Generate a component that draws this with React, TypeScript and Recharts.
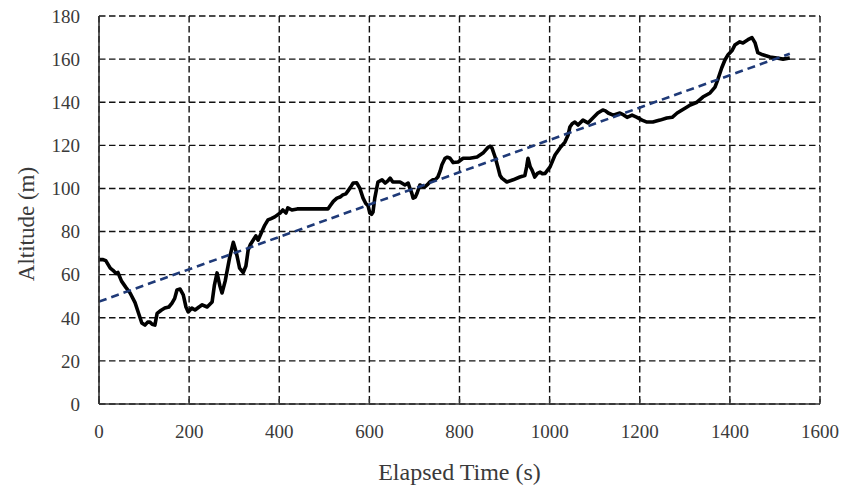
import React from "react";
import { LineChart, Line, XAxis, YAxis, CartesianGrid } from "recharts";

// Elapsed time (s) of each logged altitude sample
const elapsedTime: number[] = [
  0, 8, 15, 25, 31, 38, 42, 50, 60, 69, 80, 88, 95, 102, 108, 113, 118, 124, 129, 138,
  146, 155, 162, 168, 173, 180, 187, 193, 198, 206, 213, 222, 229, 240, 251, 256, 262, 268, 273, 280,
  290, 298, 305, 312, 320, 326, 331, 336, 342, 348, 353, 361, 368, 375, 382, 390, 402, 408, 415, 419,
  428, 440, 460, 480, 500, 508, 513, 520, 528, 535, 541, 548, 553, 558, 564, 572, 579, 586, 592, 597,
  601, 605, 608, 612, 619, 628, 635, 641, 646, 652, 657, 668, 679, 686, 690, 694, 697, 702, 706, 712,
  718, 723, 730, 734, 741, 746, 752, 757, 761, 768, 773, 779, 786, 797, 808, 823, 839, 852, 863, 868,
  872, 879, 885, 890, 894, 905, 919, 934, 945, 949, 952, 957, 961, 967, 973, 979, 984, 990, 1001, 1012,
  1023, 1034, 1041, 1045, 1050, 1056, 1063, 1074, 1085, 1096, 1107, 1118, 1124, 1130, 1141, 1156, 1165, 1172, 1183, 1194,
  1205, 1216, 1229, 1245, 1260, 1272, 1283, 1294, 1305, 1312, 1327, 1340, 1356, 1367, 1374, 1382, 1389, 1396, 1405, 1411,
  1422, 1429, 1440, 1449, 1456, 1462, 1473, 1489, 1504, 1518, 1533,
];

// Altitude (m) at each sample
const altitude: number[] = [
  67, 67, 66.5, 63, 62, 60.5, 61, 57, 54, 51.5, 47, 42, 37.6, 36.6, 38, 38, 37, 36.6, 42, 43.5,
  44.5, 45, 46.8, 49, 52.9, 53.3, 50.6, 45, 42.7, 44.5, 43.6, 45, 46, 45, 47.3, 55, 60.8, 55, 51.5, 57,
  68, 75, 70, 63, 61, 64, 71.4, 74, 76, 78, 76, 79.8, 83, 85.4, 86, 86.8, 88.6, 90, 88.6, 91,
  90, 90.5, 90.5, 90.5, 90.5, 90.5, 92, 94, 95.5, 96, 97, 97.5, 99, 100.5, 102.5, 102.6, 100, 95.5, 93, 92,
  88.6, 88, 89, 95.5, 103, 104, 102.5, 103.5, 104.8, 103, 103, 103, 101.6, 102.5, 100, 97.9, 95.5, 96, 97.9, 101.6,
  101, 100.7, 102, 103, 104, 104, 105.3, 108, 111, 114, 114.5, 114, 112, 112.3, 114, 114, 114.6, 116.4, 119, 119.5,
  118.8, 114.6, 110, 106, 104.8, 103, 104, 105.3, 106, 110, 114, 110, 108.5, 105.3, 107, 107.6, 106.8, 107, 110, 115.5,
  118.8, 121.5, 124.8, 128.5, 130, 130.8, 129.4, 131.7, 130.4, 132.7, 135, 136.4, 136, 135, 134, 135, 134, 133, 134, 133,
  131.7, 130.8, 130.8, 131.7, 132.7, 133, 135, 136.4, 137.8, 138.7, 140, 142.4, 144.3, 147, 151, 156, 159.6, 162, 164, 166.5,
  168, 167.5, 169, 170, 167.5, 163, 162, 161, 160.5, 160, 160.5,
];

// Linear trend endpoints (time, altitude)
const trendTime: number[] = [0, 1533];
const trendAltitude: number[] = [47.5, 162.5];

const xTicks: number[] = [0, 200, 400, 600, 800, 1000, 1200, 1400, 1600];
const yTicks: number[] = [0, 20, 40, 60, 80, 100, 120, 140, 160, 180];

const altitudeData = elapsedTime.map((t, i) => ({ t, alt: altitude[i] }));
const trendData = trendTime.map((t, i) => ({ t, trend: trendAltitude[i] }));

const FONT = "'Liberation Serif', 'DejaVu Serif', serif";
const TEXT = "#3a3a3a";

// Vertical axis title, rotated and placed beside the tick labels
const AltitudeTitle = () => (
  <text
    x={26}
    y={224}
    transform="rotate(-90, 26, 224)"
    textAnchor="middle"
    dominantBaseline="central"
    fill={TEXT}
    fontSize={23}
    fontFamily={FONT}
  >
    Altitude (m)
  </text>
);

export default function App() {
  return (
    <div style={{ position: "absolute", left: 0, top: 0, width: 846, height: 489, background: "#fff" }}>
      <LineChart
        width={846}
        height={489}
        margin={{ top: 16, right: 26, left: 0, bottom: 0 }}
        style={{ fontFamily: FONT }}
      >
        <CartesianGrid stroke="#111" strokeWidth={1.4} strokeDasharray="6.5 3.5" />
        <XAxis
          type="number"
          dataKey="t"
          domain={[0, 1600]}
          ticks={xTicks}
          allowDataOverflow
          height={85}
          axisLine={{ stroke: "#333", strokeWidth: 1.6 }}
          tickLine={{ stroke: "#333", strokeWidth: 1.4 }}
          tickSize={-5}
          tickMargin={26}
          tick={{ fill: TEXT, fontSize: 19, fontFamily: FONT }}
          label={{
            value: "Elapsed Time (s)",
            position: "insideBottom",
            offset: 9,
            style: { fill: TEXT, fontSize: 24, fontFamily: FONT },
          }}
        />
        <YAxis
          type="number"
          domain={[0, 180]}
          ticks={yTicks}
          width={99}
          axisLine={{ stroke: "#333", strokeWidth: 1.6 }}
          tickLine={false}
          tickSize={0}
          tickMargin={19}
          tick={{ fill: TEXT, fontSize: 19, fontFamily: FONT }}
          label={<AltitudeTitle />}
        />
        <Line
          data={altitudeData}
          dataKey="alt"
          type="linear"
          stroke="#000"
          strokeWidth={3.6}
          strokeLinejoin="round"
          dot={false}
          isAnimationActive={false}
        />
        <Line
          data={trendData}
          dataKey="trend"
          type="linear"
          stroke="#1f3a78"
          strokeWidth={2.6}
          strokeDasharray="8 5"
          dot={false}
          isAnimationActive={false}
        />
      </LineChart>
    </div>
  );
}
